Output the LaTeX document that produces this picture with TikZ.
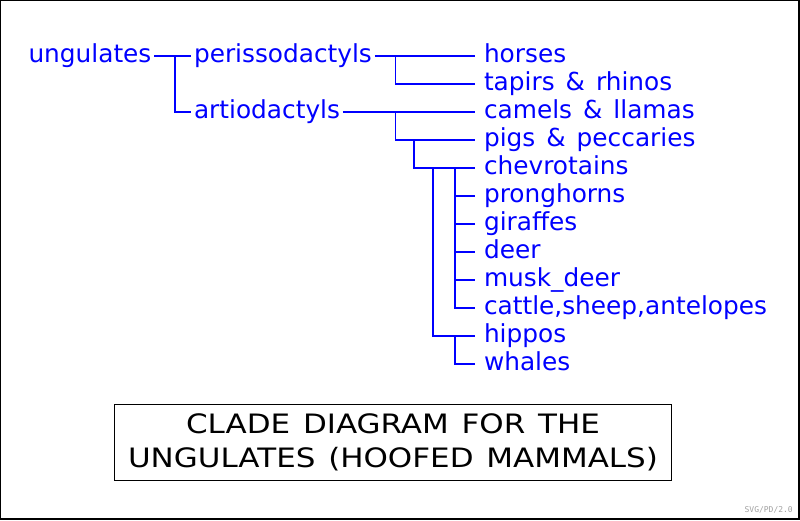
\documentclass[tikz,border=0pt]{standalone}
\usepackage{fontspec}
\usepackage{tikz}
\usetikzlibrary{positioning}
\newfontfamily\cladefont[WordSpace=1.4]{DejaVu Sans}
\newfontfamily\titlefont[FakeStretch=1.16, WordSpace=1.3]{DejaVu Sans}
\newfontfamily\tagfont{DejaVu Sans Mono}
\definecolor{Clade}{HTML}{0000FF}
\definecolor{Ink}{HTML}{000000}
\definecolor{Tag}{HTML}{A0A0A0}

\begin{document}
\begin{tikzpicture}[x=1pt, y=-1pt,
    taxon/.style={anchor=west, inner sep=0pt, outer sep=3pt, text height=13.6pt, text depth=0pt, font=\cladefont\fontsize{24.8}{28}\selectfont, text=Clade},
    leaf/.style={taxon, outer sep=9pt},
    branch/.style={draw=Clade, line width=1.2pt},
    title/.style={draw=Ink, line width=1pt, minimum width=557pt, minimum height=76pt, align=center, inner sep=0pt, font=\titlefont\fontsize{26.7}{34}\selectfont, text=Ink},
    tag/.style={anchor=base east, inner sep=0pt, font=\tagfont\fontsize{8}{8}\selectfont, text=Tag},
    frame/.style={draw=Ink, line width=1.4pt}
  ]
  \useasboundingbox (0,0) rectangle (800,520);
  \draw[frame] (0.7,0.7) rectangle (798.8,518.8);

  % Root and the two orders
  \node[taxon] (ungulates) at (25.5,56) {ungulates};
  \node[taxon] (peris) at (191,56) {perissodactyls};
  \node[taxon] (artio) at (191,112) {artiodactyls};

  % Leaves
  \node[leaf] (horses) at (475,56) {horses};
  \node[leaf] (tapirs) at (475,84) {tapirs \& rhinos};
  \node[leaf] (camels) at (475,112) {camels \& llamas};
  \node[leaf] (pigs) at (475,140) {pigs \& peccaries};
  \node[leaf] (chevro) at (475,168) {chevrotains};
  \node[leaf] (prong) at (475,196) {pronghorns};
  \node[leaf] (giraffes) at (475,224) {giraffes};
  \node[leaf] (deer) at (475,252) {deer};
  \node[leaf] (muskdeer) at (475,280) {musk\_deer};
  \node[leaf] (cattle) at (475,308) {cattle,sheep,antelopes};
  \node[leaf] (hippos) at (475,336) {hippos};
  \node[leaf] (whales) at (475,364) {whales};

  % Split points
  \coordinate (ungsplit) at (175,56);
  \coordinate (perisplit) at (395.5,56);
  \coordinate (artiosplit) at (395.5,112);
  \coordinate (pigsplit) at (414,140);
  \coordinate (hipposplit) at (433,168);
  \coordinate (ruminsplit) at (455,168);
  \coordinate (whalesplit) at (455,336);

  % Branches
  \draw[branch] (ungulates.east) -- (peris.west);
  \draw[branch] (ungsplit) |- (artio.west);
  \draw[branch] (peris.east) -- (horses.west);
  \draw[branch] (perisplit) |- (tapirs.west);
  \draw[branch] (artio.east) -- (camels.west);
  \draw[branch] (artiosplit) |- (pigs.west);
  \draw[branch] (pigsplit) |- (chevro.west);
  \draw[branch] (hipposplit) |- (hippos.west);
  \foreach \n in {prong, giraffes, deer, muskdeer, cattle}
    \draw[branch] (ruminsplit) |- (\n.west);
  \draw[branch] (whalesplit) |- (whales.west);

  % Caption
  \node[title] (title) at (393,442) {CLADE DIAGRAM FOR THE\\UNGULATES (HOOFED MAMMALS)};
  \node[tag] (tag) at (793,512.3) {SVG/PD/2.0};
\end{tikzpicture}
\end{document}
